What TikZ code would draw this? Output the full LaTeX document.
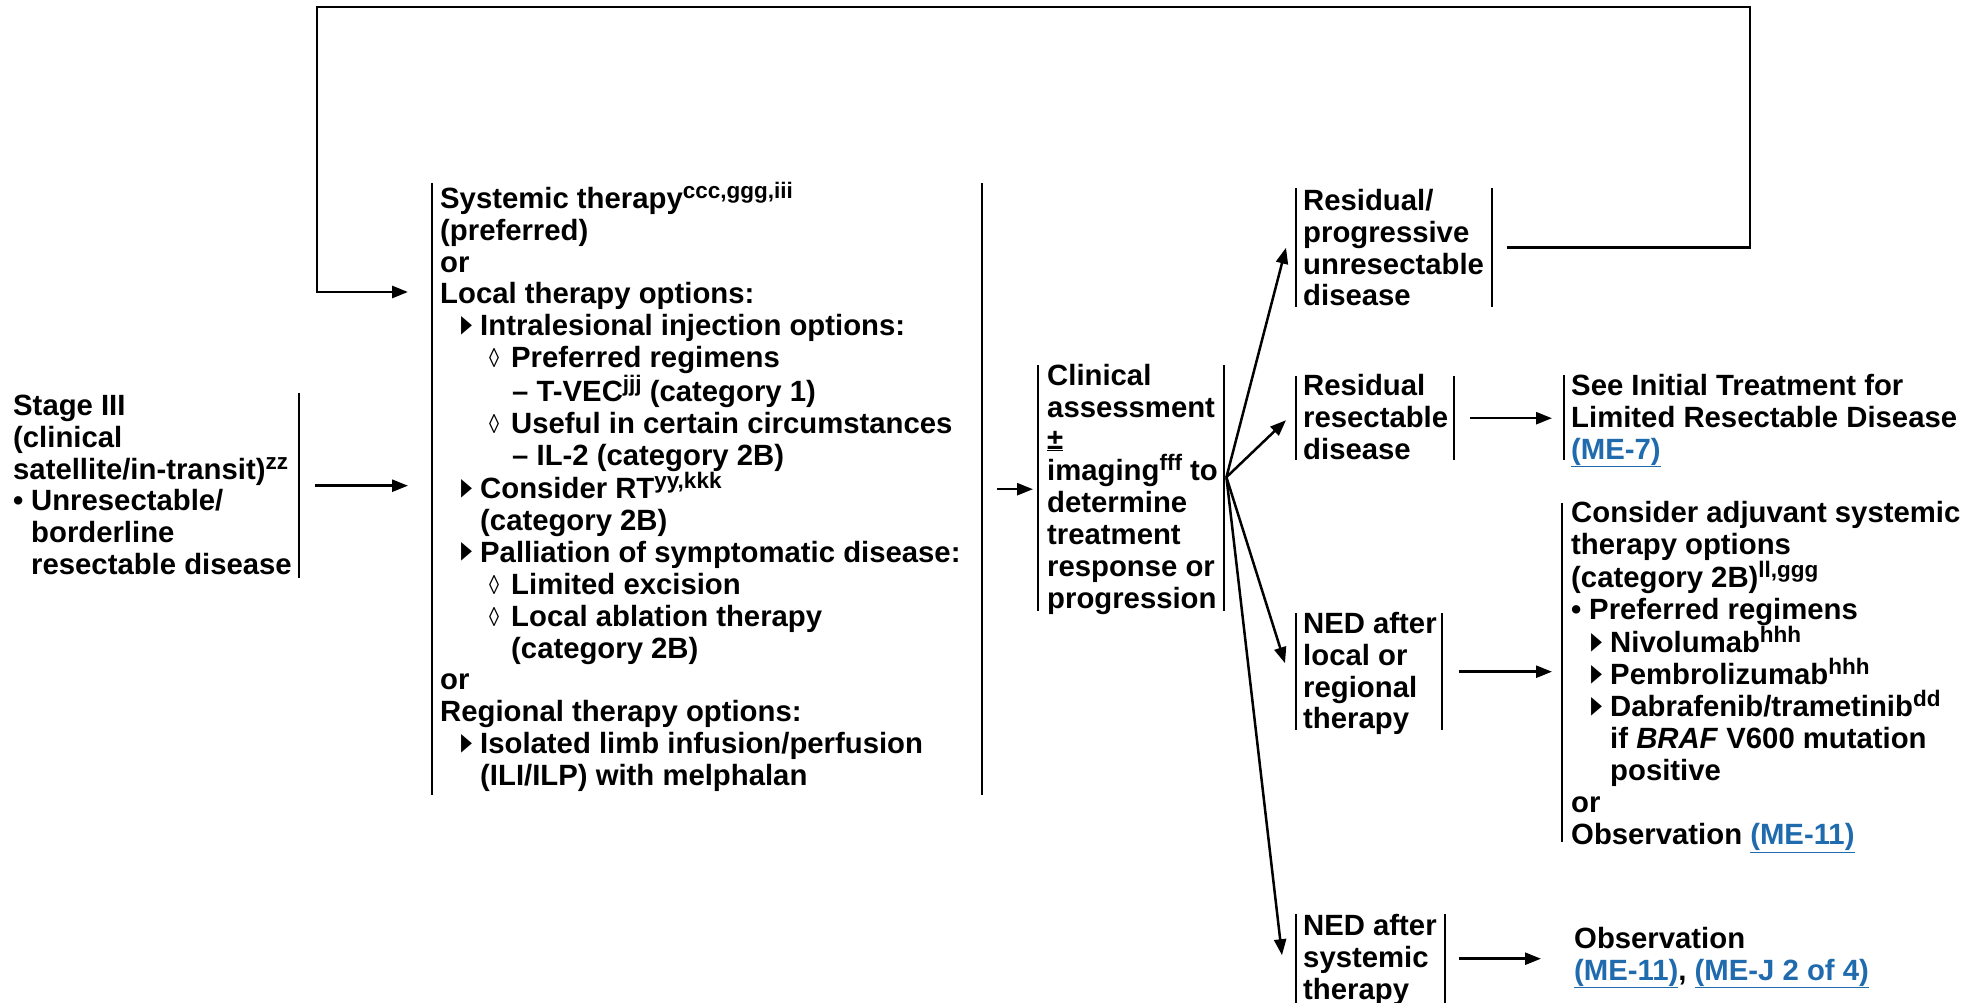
\documentclass[tikz,border=0pt]{standalone}
\usepackage{fontspec}
\setmainfont{Liberation Sans}
\newfontfamily\dejavufont{DejaVu Sans}
\usepackage{xcolor}
\usepackage{graphicx}
\usetikzlibrary{arrows.meta,calc}
\definecolor{linkblue}{HTML}{1F6BAE}
\newcommand\mysup[1]{\raisebox{10pt}{\fontsize{22.5}{22.5}\selectfont #1}}
\newcommand\mytri{\raisebox{0.5pt}{\resizebox{11pt}{19pt}{\dejavufont ▸}}}
\newcommand\myloz{\resizebox{10pt}{19pt}{\mdseries ◊}}
\newcommand\mystrut{\rule{0pt}{27pt}}
\newcommand\mylink[1]{\textcolor{linkblue}{\underline{#1}}}
\tikzset{
  barln/.style={line width=2pt},
  arr/.style={line width=2.5pt,-{Triangle[length=16pt,width=12pt]}},
  txt/.style={anchor=north west,inner sep=0pt,align=left,font=\fontsize{29.3}{31.9}\selectfont\bfseries},
  frame/.style={anchor=north west,inner sep=0pt,draw=none}
}
\begin{document}
\begin{tikzpicture}[x=1pt,y=-1pt]
\fill[white] (0,0) rectangle (1984,1003);
\useasboundingbox (0,0) rectangle (1984,1003);

% frames (bars)
\node[frame,minimum width=286pt,minimum height=185pt] (stage) at (13,393) {};
\node[frame,minimum width=550pt,minimum height=612pt] (therapy) at (432,183) {};
\node[frame,minimum width=186pt,minimum height=246pt] (clinical) at (1038,365) {};
\node[frame,minimum width=196pt,minimum height=119pt] (resprog) at (1296,188) {};
\node[frame,minimum width=158pt,minimum height=84pt] (resres) at (1296,376) {};
\node[frame,minimum width=146pt,minimum height=117pt] (nedlocal) at (1296,613) {};
\node[frame,minimum width=149pt,minimum height=89pt] (nedsys) at (1296,914) {};
\node[frame,minimum width=396pt,minimum height=85pt] (seeinit) at (1564,375) {};
\node[frame,minimum width=400pt,minimum height=339pt] (adjuv) at (1562,503) {};

\draw[barln] (stage.north east) -- (stage.south east);
\foreach \n in {therapy,clinical,resprog,resres,nedlocal,nedsys}{
  \draw[barln] (\n.north west) -- (\n.south west) (\n.north east) -- (\n.south east);
}
\draw[barln] (seeinit.north west) -- (seeinit.south west);
\draw[barln] (adjuv.north west) -- (adjuv.south west);

% texts
\node[txt] (stageT) at (13,388) {\mystrut Stage III\\
(clinical\\
satellite/in-transit)\mysup{zz}\\
\makebox[18pt][l]{•}Unresectable/\\
\hspace*{18pt}borderline\\
\hspace*{18pt}resectable disease};

\node[txt] (therapyT) at (440,181) {\mystrut Systemic therapy\mysup{ccc,ggg,iii}\\
(preferred)\\
or\\
Local therapy options:\\
\hspace*{21pt}\makebox[19pt][l]{\mytri}Intralesional injection options:\\
\hspace*{49pt}\makebox[22pt][l]{\myloz}Preferred regimens\\
\hspace*{72pt}– T-VEC\mysup{jjj} (category 1)\\
\hspace*{49pt}\makebox[22pt][l]{\myloz}Useful in certain circumstances\\
\hspace*{72pt}– IL-2 (category 2B)\\
\hspace*{21pt}\makebox[19pt][l]{\mytri}Consider RT\mysup{yy,kkk}\\
\hspace*{40pt}(category 2B)\\
\hspace*{21pt}\makebox[19pt][l]{\mytri}Palliation of symptomatic disease:\\
\hspace*{49pt}\makebox[22pt][l]{\myloz}Limited excision\\
\hspace*{49pt}\makebox[22pt][l]{\myloz}Local ablation therapy\\
\hspace*{71pt}(category 2B)\\
or\\
Regional therapy options:\\
\hspace*{21pt}\makebox[19pt][l]{\mytri}Isolated limb infusion/perfusion\\
\hspace*{40pt}(ILI/ILP) with melphalan};

\node[txt] (clinicalT) at (1047,358) {\mystrut Clinical\\
assessment\\
\underline{±}\\
imaging\mysup{fff} to\\
determine\\
treatment\\
response or\\
progression};

\node[txt] (resprogT) at (1303,183) {\mystrut Residual/\\
progressive\\
unresectable\\
disease};

\node[txt] (resresT) at (1303,368) {\mystrut Residual\\
resectable\\
disease};

\node[txt] (nedlocalT) at (1303,606) {\mystrut NED after\\
local or\\
regional\\
therapy};

\node[txt] (nedsysT) at (1303,908) {\mystrut NED after\\
systemic\\
therapy};

\node[txt] (seeinitT) at (1571,368) {\mystrut See Initial Treatment for\\
Limited Resectable Disease\\
\mylink{(ME-7)}};

\node[txt] (adjuvT) at (1571,495) {\mystrut Consider adjuvant systemic\\
therapy options\\
(category 2B)\mysup{ll,ggg}\\
\makebox[18pt][l]{•}Preferred regimens\\
\hspace*{20pt}\makebox[19pt][l]{\mytri}Nivolumab\mysup{hhh}\\
\hspace*{20pt}\makebox[19pt][l]{\mytri}Pembrolizumab\mysup{hhh}\\
\hspace*{20pt}\makebox[19pt][l]{\mytri}Dabrafenib/trametinib\mysup{dd}\\
\hspace*{39pt}if \textit{BRAF} V600 mutation\\
\hspace*{39pt}positive\\
or\\
Observation \mylink{(ME-11)}};

\node[txt] (obsT) at (1574,921) {\mystrut Observation\\
\mylink{(ME-11)}, \mylink{(ME-J 2 of 4)}};

% connectors
\draw[arr] ($(stage.east)+(16,0)$) -- ($(therapy.west |- stage.east)+(-24,0)$);
\draw[arr] ($(therapy.east)+(15,0)$) -- ($(clinical.west |- therapy.east)+(-5,0)$);
\coordinate (fan) at ($(clinical.east)+(2,-11)$);
\draw[arr] (fan) -- ($(resprog.west)+(-10,0)$);
\draw[arr] (fan) -- ($(resres.west)+(-10,2)$);
\draw[arr] (fan) -- ($(nedlocal.west)+(-11,-8.5)$);
\draw[arr] (fan) -- ($(nedsys.west)+(-14,-3.5)$);
\draw[arr] ($(resres.east)+(16,0)$) -- ($(seeinit.west |- resres.east)+(-12,0)$);
\draw[arr] ($(nedlocal.east)+(17,0)$) -- ($(adjuv.west |- nedlocal.east)+(-10,0)$);
\draw[arr] ($(nedsys.east)+(14,0)$) -- ($(obsT.west |- nedsys.east)+(-33,0)$);
\coordinate (topR) at (1750,7);
\coordinate (topL) at (317,7);
\draw[arr,line width=2.8pt] ($(resprog.east)+(15,0)$) -| (topR) -- (topL) |- ($(therapy.north west)+(-24,109)$);
\end{tikzpicture}
\end{document}
